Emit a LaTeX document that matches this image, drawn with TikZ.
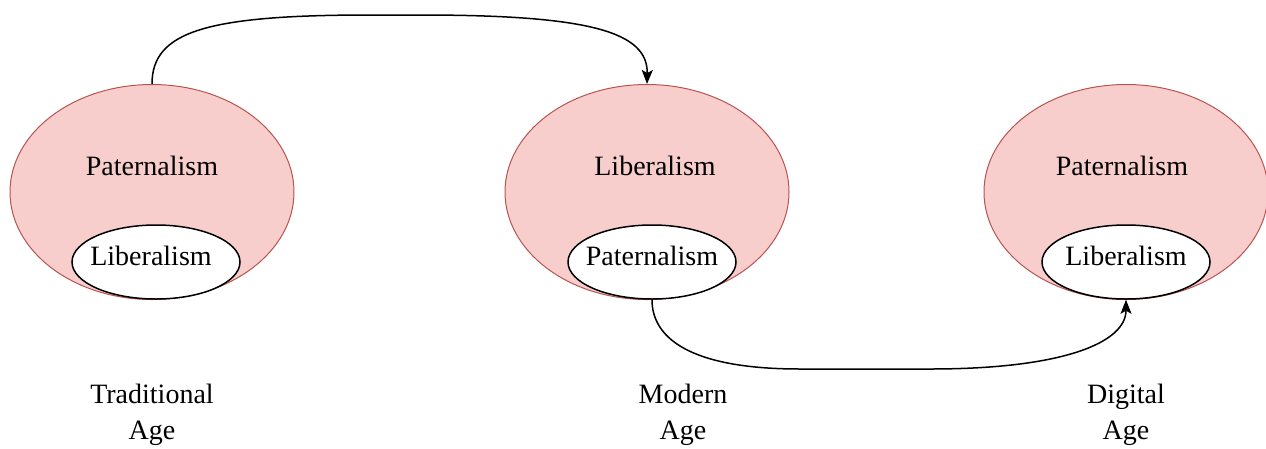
\documentclass[tikz,border=0pt]{standalone}
\usepackage{fontspec}
\setmainfont{Liberation Serif}
\usetikzlibrary{shapes.geometric,arrows.meta}
\definecolor{pinkfill}{HTML}{F8CECC}
\definecolor{pinkline}{HTML}{B85450}
\begin{document}
\begin{tikzpicture}[x=1pt,y=-1pt,
  outer/.style={ellipse,draw=pinkline,fill=pinkfill,line width=1pt,minimum width=284pt,minimum height=215pt,inner sep=0pt},
  inner/.style={ellipse,draw=black,fill=white,line width=1.5pt,minimum width=168pt,minimum height=74pt,inner sep=0pt},
  lbl/.style={font=\fontsize{28}{34}\selectfont,inner sep=0pt},
  agelbl/.style={font=\fontsize{28}{36}\selectfont,align=center,inner sep=0pt},
  conn/.style={line width=1.5pt,-{Stealth[length=14pt,width=11pt,inset=3pt]}}]
\useasboundingbox (0,0) rectangle (1266,448);
% outer ellipses
\node[outer] (o1) at (152,192) {};
\node[outer] (o2) at (647,192) {};
\node[outer] (o3) at (1126,192) {};
% outer labels
\node[lbl] (t1) at (152,166) {Paternalism};
\node[lbl] (t2) at (655,166) {Liberalism};
\node[lbl] (t3) at (1122,166) {Paternalism};
% inner ellipses
\node[inner] (i1) at (156,262) {};
\node[inner] (i2) at (652,262) {};
\node[inner] (i3) at (1126,262) {};
\node[lbl] (l1) at (151,256) {Liberalism};
\node[lbl] (l2) at (652,256) {Paternalism};
\node[lbl] (l3) at (1126,256) {Liberalism};
% age labels
\node[agelbl] (a1) at (152,415) {Traditional\\Age};
\node[agelbl] (a2) at (683,415) {Modern\\Age};
\node[agelbl] (a3) at (1126,415) {Digital\\Age};
% connectors
\coordinate (top1) at (370,15);
\coordinate (top2) at (420,15);
\coordinate (bot1) at (800,369);
\coordinate (bot2) at (930,369);
\draw[conn] (o1.north) .. controls (152,32) and (205,15) .. (top1) -- (top2)
  .. controls (590,15) and (648,32) .. (o2.north);
\draw[conn] (i2.south) .. controls (652,338) and (690,369) .. (bot1) -- (bot2)
  .. controls (1065,369) and (1126,342) .. (i3.south);
\end{tikzpicture}
\end{document}
